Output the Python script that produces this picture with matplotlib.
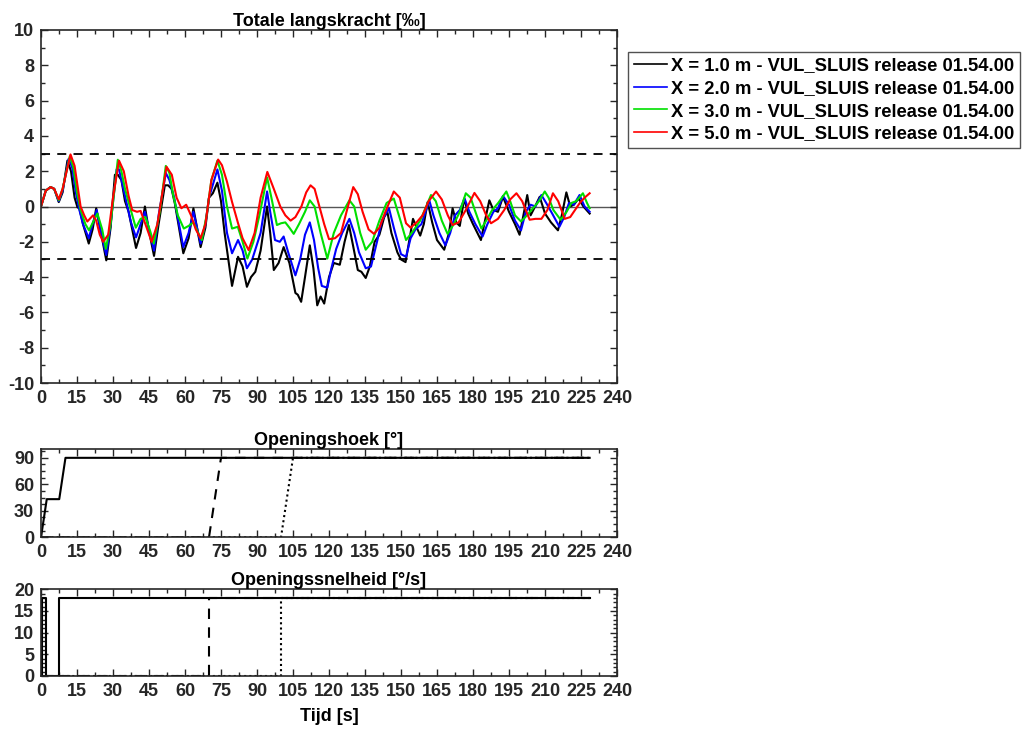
import matplotlib
matplotlib.use('Agg')
import matplotlib.pyplot as plt
from matplotlib.ticker import MultipleLocator

plt.rcParams['font.family'] = ['Liberation Sans', 'DejaVu Sans']
plt.rcParams['font.weight'] = 'bold'
plt.rcParams['font.size'] = 13
plt.rcParams['axes.unicode_minus'] = False

# --- Totale langskracht [permille] per meetpunt ---
t_x1 = [0, 2, 4, 5.5, 7.4, 9, 11, 12.5, 14, 15.2, 16, 17.5, 19.9, 21.5, 23, 25, 27.2, 29, 30.8, 32,
        33.5, 35, 36.5, 39.6, 41.5, 43.3, 45, 47.1, 49, 51.6, 53, 54.4, 55.8, 57.5, 59.3, 61.5, 63.5,
        65, 66.5, 68.5, 70, 71.6, 73.5, 75, 76.5, 79.6, 82.1, 84, 85.8, 87.5, 89.3, 91.5, 94.2, 95.5,
        97, 99, 101.1, 103.5, 106, 107, 108.4, 110, 112, 113.5, 115.1, 116.5, 118, 120, 122, 124.5,
        126.5, 128.3, 130, 132, 133.5, 135.3, 137, 139, 141, 143, 144.3, 146, 148.5, 150, 151.9, 155,
        158, 159.5, 161.1, 163, 165, 168, 170, 171.5, 173, 174.5, 176.3, 178, 180, 183.3, 185, 186.8,
        188.5, 190.4, 192.5, 195, 197.5, 199.4, 201, 202.6, 204, 205.5, 207.8, 210, 212.5, 215.4, 217,
        218.9, 220.5, 222, 224, 226, 228.6]
v_x1 = [0, 0.9, 1.1, 1.0, 0.25, 0.8, 2.6, 2.0, 0.5, -0.05, -0.1, -1.0, -2.1, -1.3, -0.1, -1.5, -3.05,
        -1.2, 1.8, 1.8, 1.5, 0.3, -0.3, -2.35, -1.5, 0.0, -1.4, -2.8, -1.0, 1.2, 1.2, 1.0, 0.15, -1.2,
        -2.65, -1.8, -0.1, -1.2, -2.3, -1.2, 0.5, 0.75, 1.35, 0.3, -1.5, -4.5, -2.85, -3.4, -4.55,
        -4.0, -3.7, -2.5, 0.0, -1.5, -3.6, -3.2, -2.3, -3.2, -4.9, -5.0, -5.4, -4.0, -2.2, -3.5, -5.6,
        -5.1, -5.5, -4.0, -3.2, -3.3, -2.0, -1.05, -2.2, -3.6, -3.7, -4.05, -3.4, -2.0, -1.6, -0.6,
        -0.3, -1.5, -2.6, -3.0, -3.15, -0.7, -1.65, -1.0, 0.25, -0.9, -1.9, -2.45, -1.5, -0.1, -0.9,
        -1.1, 0.45, -0.4, -1.0, -1.9, -0.8, 0.35, -0.2, -0.3, 0.55, -0.3, -1.0, -1.6, -0.5, 0.65,
        -0.5, -0.1, 0.55, -0.4, -0.9, -1.35, -0.5, 0.8, 0.0, 0.1, 0.45, 0.0, -0.4]

t_x2 = [0, 2, 4, 5.5, 7.4, 9, 11.5, 13, 14.5, 16, 17.5, 19.9, 21.5, 23.2, 25, 27.2, 29, 31.5, 32.5,
        34, 36, 37.5, 39.6, 41.5, 43.3, 45, 47.1, 49, 52, 53.5, 55.5, 57.5, 59.3, 61.5, 63.5, 65,
        66.5, 68.5, 70, 73.5, 75.4, 77.5, 79.6, 82.1, 84, 85.8, 88, 91.5, 94.2, 95.5, 97.5, 99.5,
        101.1, 103, 106, 108, 110, 112, 113.75, 115.5, 117, 119.3, 121, 123, 125.5, 128.5, 130.5,
        132.5, 135.3, 137.5, 140, 142, 145, 147, 150, 152.1, 154, 156, 158.5, 161.8, 163.5, 166,
        168.5, 170.5, 172.5, 174.5, 176.5, 178.5, 181, 184, 186, 188.5, 190.4, 192.5, 195, 197.5,
        200, 202, 204, 206, 208.5, 210.5, 213, 216, 218, 220, 222, 224.4, 226.5, 228.6]
v_x2 = [0, 0.9, 1.1, 1.0, 0.3, 0.9, 2.7, 2.2, 0.8, -0.2, -1.0, -1.8, -1.0, -0.2, -1.5, -2.75, -1.0,
        2.1, 2.1, 1.2, 0.0, -0.9, -1.75, -1.0, -0.3, -1.3, -2.5, -0.5, 1.9, 1.5, 0.5, -1.0, -2.3,
        -1.5, -0.3, -1.2, -2.1, -1.0, 0.5, 2.1, 0.9, -1.5, -2.65, -1.9, -2.5, -3.5, -3.0, -1.5, 0.85,
        -0.3, -1.9, -2.0, -1.7, -2.6, -3.9, -3.0, -1.6, -0.9, -1.9, -3.5, -4.5, -4.6, -3.5, -2.4,
        -1.5, -0.7, -1.5, -2.6, -3.5, -3.4, -2.0, -0.8, -0.1, -1.2, -2.7, -2.85, -1.8, -1.3, -1.0,
        0.35, -0.5, -1.5, -2.2, -1.5, -0.5, -0.2, 0.45, -0.3, -1.0, -1.7, -1.0, -0.3, -0.1, 0.6, 0.1,
        -0.8, -1.35, -0.3, 0.1, 0.0, 0.65, 0.2, -0.4, -1.15, -0.6, 0.2, 0.1, 0.65, 0.0, -0.3]

t_x3 = [0, 2, 4, 5.5, 7.4, 9, 12, 13.5, 15, 16.5, 18.5, 20, 22, 23.5, 25.5, 27, 29, 32, 33.5, 35, 37,
        39.5, 41.5, 43.5, 45.5, 47, 49.5, 52, 53.5, 55, 57, 59.5, 61.5, 63.5, 65.5, 67, 69, 71, 73.5,
        75.4, 77.5, 79.6, 82, 84, 86, 88.5, 91, 94.2, 96, 98.3, 100, 101.8, 103.5, 105.3, 107.5, 110,
        112, 114, 116.5, 119.3, 122, 125, 128.5, 130.5, 133, 135.3, 138, 141, 144, 147, 150, 152.1,
        155, 158, 160.5, 162.5, 164.5, 167, 169.4, 172, 174.5, 177, 179, 181, 183.5, 185.5, 188,
        190.5, 193.9, 195.5, 197.5, 200, 202.5, 205, 207.5, 209.9, 211.5, 213.5, 216.5, 219, 221,
        223, 225.8, 227.5, 228.6]
v_x3 = [0, 0.9, 1.1, 1.0, 0.35, 1.0, 2.85, 2.2, 0.8, -0.2, -1.0, -1.35, -0.8, -0.4, -1.3, -2.4,
        -1.0, 2.65, 2.0, 1.0, 0.0, -1.2, -0.7, -0.6, -1.4, -2.1, -0.3, 2.3, 1.9, 0.7, -0.5, -1.25,
        -1.1, -0.9, -1.5, -1.9, -0.5, 1.5, 2.6, 1.8, 0.0, -1.25, -1.15, -2.0, -2.95, -2.0, -0.5,
        1.65, 0.5, -1.05, -0.95, -0.9, -1.2, -1.55, -1.0, -0.3, 0.35, 0.0, -1.5, -2.95, -1.5, -0.5,
        0.35, 0.0, -1.5, -2.45, -2.0, -0.8, 0.2, 0.45, -0.9, -1.9, -1.4, -0.8, 0.0, 0.65, 0.3, -0.8,
        -1.55, -1.0, -0.3, 0.75, 0.5, -0.3, -1.25, -0.8, -0.2, 0.2, 0.85, 0.3, -0.5, -0.85, -0.5,
        -0.1, 0.3, 0.85, 0.5, -0.2, -0.75, -0.3, 0.2, 0.3, 0.75, 0.2, -0.1]

t_x5 = [0, 2, 4, 5.5, 7.4, 9, 12.3, 14, 16.5, 18, 19.3, 21.7, 23, 24.5, 25.9, 28, 30, 32.5, 34.5,
        36.5, 38, 40, 41.5, 43.5, 46.1, 48.5, 52.3, 54.5, 56.5, 58.5, 60.5, 62.5, 64.5, 66.5, 68.5,
        71, 73.8, 75.4, 77.5, 79.6, 82, 84, 86.5, 89, 91.5, 94.3, 97, 99.7, 101.8, 104, 106, 108.5,
        110.5, 112.3, 114, 116, 118, 120, 122.5, 125, 127.5, 130.1, 132, 134, 136.5, 138.75, 141,
        143.5, 147, 149.5, 152.1, 154, 156.5, 159, 161.5, 164.6, 167, 169.5, 171.5, 174, 177, 180.6,
        183, 185.5, 187.5, 190.4, 193, 195.5, 198.1, 200.5, 203.6, 206, 208.5, 211, 213.3, 215.5,
        218.2, 220.5, 222.5, 224.5, 226.5, 228.6]
v_x5 = [0, 0.9, 1.1, 1.0, 0.4, 1.0, 2.95, 2.3, 0.0, -0.5, -0.85, -0.5, -0.8, -1.6, -2.0, -1.6, 0.5,
        2.6, 2.0, 0.6, -0.2, -0.3, -0.25, -1.0, -2.0, -1.0, 2.25, 1.8, 0.5, -0.1, 0.1, -0.5, -1.3,
        -1.8, -1.0, 1.5, 2.66, 2.34, 1.4, 0.26, -0.9, -1.8, -2.47, -1.5, 0.5, 1.96, 1.0, 0.0, -0.5,
        -0.8, -0.6, 0.0, 0.8, 1.2, 1.0, 0.0, -1.0, -1.85, -1.8, -1.5, -0.2, 1.1, 0.7, -0.3, -1.3,
        -1.55, -1.2, -0.3, 0.85, 0.5, -0.95, -1.2, -0.9, -0.5, 0.3, 0.85, 0.4, -0.5, -1.05, -0.9,
        -0.2, 0.77, 0.3, -0.5, -0.95, -0.7, -0.2, 0.4, 0.75, 0.3, -0.75, -0.7, -0.7, -0.2, 0.75,
        0.3, -0.7, -0.6, -0.2, 0.2, 0.5, 0.75]

labels = ['X = 1.0 m - VUL_SLUIS release 01.54.00',
          'X = 2.0 m - VUL_SLUIS release 01.54.00',
          'X = 3.0 m - VUL_SLUIS release 01.54.00',
          'X = 5.0 m - VUL_SLUIS release 01.54.00']
colors = ['#000000', '#0000ff', '#00e000', '#ff0000']
limit = 3.0

# --- klepbewegingen: hoek [deg] en snelheid [deg/s] ---
t_hoek_1 = [0, 2.4, 7.6, 10.2, 228.6]
hoek_1 = [0, 43.2, 43.2, 90, 90]
t_hoek_2 = [0, 70, 75, 228.6]
hoek_2 = [0, 0, 90, 90]
t_hoek_3 = [0, 100, 105, 228.6]
hoek_3 = [0, 0, 90, 90]

t_snel_1 = [0.3, 0.3, 2.1, 2.1, 7.6, 7.6, 228.6]
snel_1 = [0, 18, 18, 0, 0, 18, 18]
t_snel_2 = [0, 70, 70, 228.6]
snel_2 = [0, 0, 18, 18]
t_snel_3 = [0, 100, 100, 228.6]
snel_3 = [0, 0, 18, 18]

xticks = list(range(0, 241, 15))
frame = '#262626'


def style(ax, ylim, ymaj, ymin):
    ax.set_xlim(0, 240)
    ax.set_ylim(*ylim)
    ax.set_xticks(xticks)
    ax.xaxis.set_minor_locator(MultipleLocator(7.5))
    ax.yaxis.set_major_locator(MultipleLocator(ymaj))
    ax.yaxis.set_minor_locator(MultipleLocator(ymin))
    ax.tick_params(which='both', direction='in', top=True, right=True, colors=frame,
                   labelcolor='#262626', width=1.0)
    ax.tick_params(which='major', length=5, labelsize=13, pad=5)
    ax.tick_params(which='minor', length=3)
    for s in ax.spines.values():
        s.set_color(frame)
        s.set_linewidth(1.2)


fig = plt.figure(figsize=(10.22, 7.32), dpi=100)
ax1 = fig.add_axes([41 / 1022, 1 - 383 / 732, 576 / 1022, 353 / 732])
ax2 = fig.add_axes([41 / 1022, 1 - 537.3 / 732, 576 / 1022, 88.3 / 732])
ax3 = fig.add_axes([41 / 1022, 1 - 676 / 732, 576 / 1022, 86.7 / 732])

series = [(t_x1, v_x1), (t_x2, v_x2), (t_x3, v_x3), (t_x5, v_x5)]
for (t, v), c, lab in zip(series, colors, labels):
    ax1.plot(t, v, color=c, lw=1.5, label=lab)
ax1.axhline(0, color='#555555', lw=1.0, zorder=1)
ax1.axhline(limit, color='black', lw=1.3, ls=(0, (5, 4)))
ax1.axhline(-limit, color='black', lw=1.3, ls=(0, (5, 4)))
style(ax1, (-10, 10), 2, 1)
ax1.set_title('Totale langskracht [‰]', fontsize=13, fontweight='bold', pad=3)

fig.legend(handles=[plt.Line2D([], [], color=c, lw=1.2) for c in colors], labels=labels,
           loc='upper left', bbox_to_anchor=(628 / 1022, 1 - 52 / 732), fontsize=13.2,
           frameon=True, fancybox=False, edgecolor='#262626', handlelength=1.8,
           handletextpad=0.25, borderpad=0.3, labelspacing=0.31, borderaxespad=0)

ax2.plot(t_hoek_1, hoek_1, color='black', lw=1.5)
ax2.plot(t_hoek_2, hoek_2, color='black', lw=1.5, ls=(0, (5, 4)))
ax2.plot(t_hoek_3, hoek_3, color='black', lw=1.5, ls=(0, (1, 1.5)))
style(ax2, (0, 100), 30, 7.5)
ax2.set_title('Openingshoek [°]', fontsize=13, fontweight='bold', pad=3)

ax3.plot(t_snel_1, snel_1, color='black', lw=1.5)
ax3.plot(t_snel_2, snel_2, color='black', lw=1.5, ls=(0, (5, 4)))
ax3.plot(t_snel_3, snel_3, color='black', lw=1.5, ls=(0, (1, 1.5)))
style(ax3, (0, 20), 5, 1)
ax3.set_title('Openingssnelheid [°/s]', fontsize=13, fontweight='bold', pad=3)
ax3.set_xlabel('Tijd [s]', fontsize=13, fontweight='bold', labelpad=6)

fig.savefig('out.png', dpi=100)
